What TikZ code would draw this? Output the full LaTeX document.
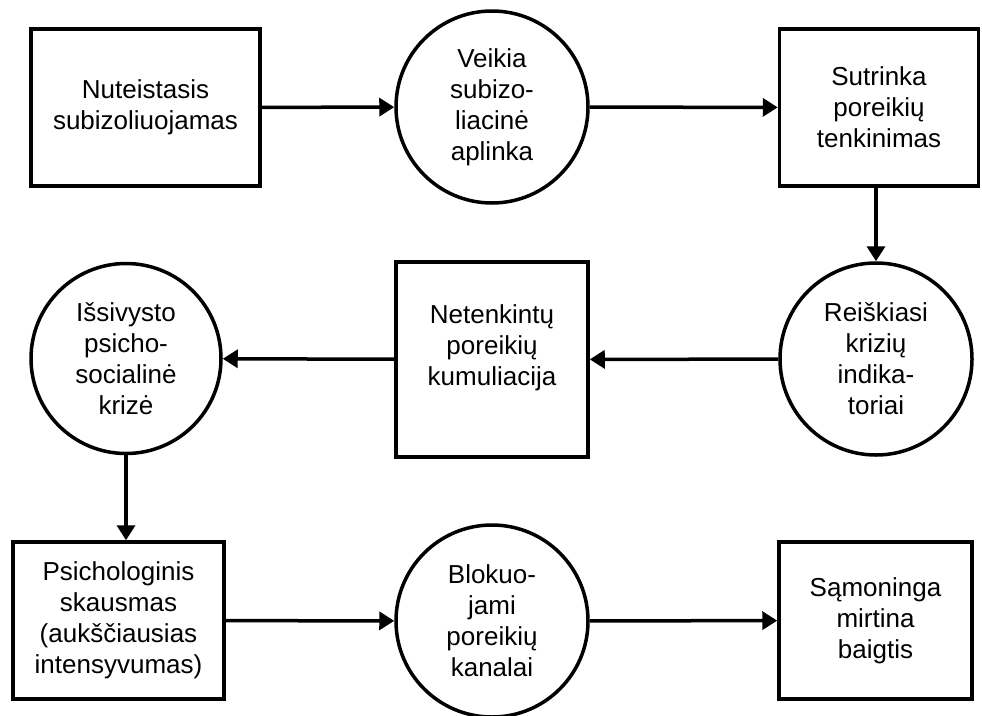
\documentclass[tikz,border=0pt]{standalone}
\usepackage{fontspec}
\setmainfont{Liberation Sans}
\usepackage{tikz}
\usetikzlibrary{arrows.meta}

\begin{document}
\begin{tikzpicture}[x=1pt,y=-1pt,
	box/.style={draw,line width=3.5pt,rectangle,inner sep=0pt,align=center,
		font=\fontsize{26}{31}\selectfont},
	ring/.style={draw,line width=3.5pt,circle,inner sep=0pt,align=center,
		minimum size=192pt,font=\fontsize{26}{31}\selectfont},
	flow/.style={line width=3.5pt,-{Triangle[length=15pt,width=18pt]}}]
	\useasboundingbox (0,0) rectangle (982,715);
	% first row
	\node[box,minimum width=229pt,minimum height=157pt] (nut) at (145.5,107.5) {Nuteistasis\\subizoliuojamas};
	\node[ring] (veik) at (492,107) {Veikia\\subizo-\\liacinė\\aplinka};
	\node[box,minimum width=199pt,minimum height=157pt] (sutr) at (879,107.5) {Sutrinka\\poreikių\\tenkinimas};
	% second row
	\node[ring] (reis) at (876,359) {Reiškiasi\\krizių\\indika-\\toriai};
	\node[box,minimum width=192pt,minimum height=195pt] (net) at (492,359.5) {Netenkintų\\poreikių\\kumuliacija\\[-3pt]};
	\node[ring,minimum size=190pt] (issi) at (126,358.5) {Išsivysto\\psicho-\\socialinė\\krizė};
	% third row
	\node[box,minimum width=211pt,minimum height=157pt] (psi) at (118.5,620.5) {Psichologinis\\skausmas\\(aukščiausias\\intensyvumas)};
	\node[ring] (blok) at (492,621) {Blokuo-\\jami\\poreikių\\kanalai};
	\node[box,minimum width=193pt,minimum height=157pt] (sam) at (875.5,620.5) {Sąmoninga\\mirtina\\baigtis};
	% connectors
	\draw[flow] (nut) -- (veik);
	\draw[flow] (veik) -- (sutr);
	\draw[flow] (reis.north |- sutr.south) -- (reis.north);
	\draw[flow] (reis) -- (net);
	\draw[flow] (net) -- (issi);
	\draw[flow] (issi.south) -- (issi.south |- psi.north);
	\draw[flow] (psi) -- (blok);
	\draw[flow] (blok) -- (sam);
\end{tikzpicture}
\end{document}
